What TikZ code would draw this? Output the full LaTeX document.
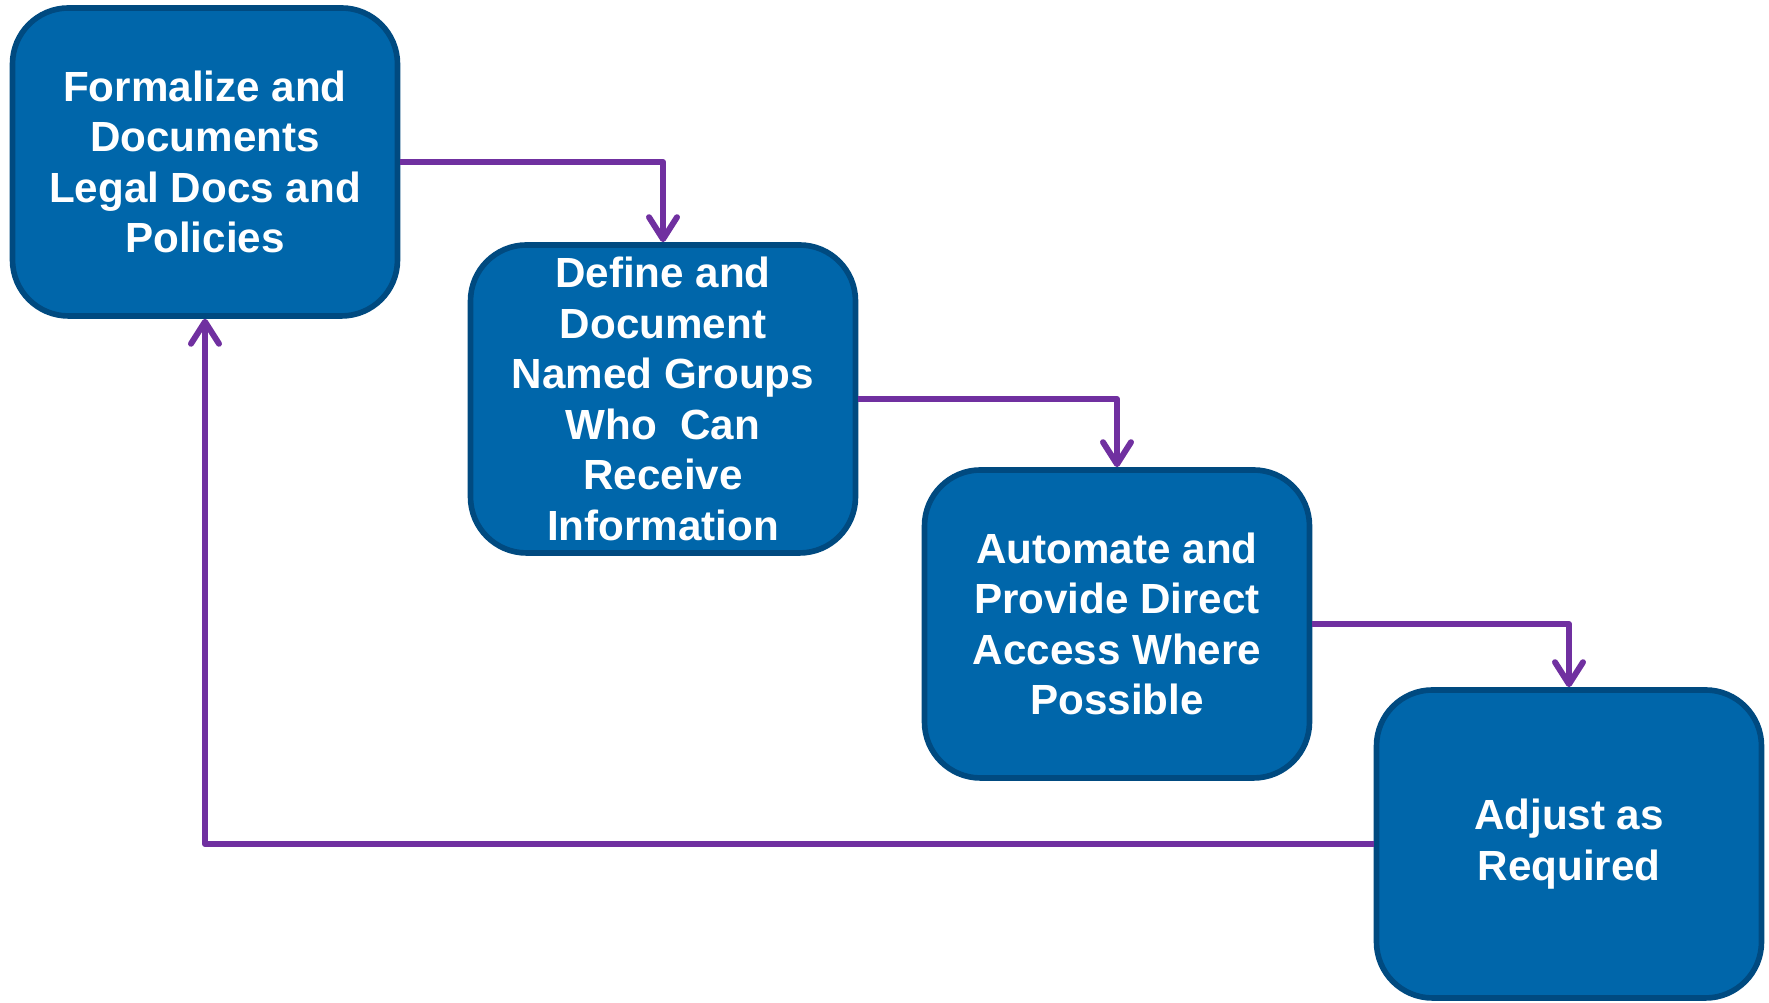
\documentclass[tikz,border=0pt]{standalone}
\usepackage{fontspec}
\setmainfont{Liberation Sans}
\usetikzlibrary{arrows.meta}
\definecolor{boxblue}{RGB}{0,102,170}
\definecolor{boxedge}{RGB}{0,74,128}
\definecolor{flowpurple}{RGB}{112,48,160}
\begin{document}
\begin{tikzpicture}[
		stage/.style = { draw = boxedge, line width = 1.6pt, fill = boxblue, rounded corners = 0.56cm,
			minimum width = 3.85cm, minimum height = 3.08cm, inner sep = 0pt, align = center,
			text = white, font = \bfseries\fontsize{12}{14.4}\selectfont },
		flow/.style = { draw = flowpurple, line width = 1.7pt, line join = round,
			-{Straight Barb[length = 2.2mm, width = 2.8mm, line width = 1.7pt, round]} }
	]
		\useasboundingbox ( 0.00, 0.00 ) rectangle ( 17.69, 10.03 );

		% этапы
		\node [stage] (formalize) at (  2.05, 8.41 ) {Formalize and\\Documents\\Legal Docs and\\Policies};
		\node [stage] (define)    at (  6.63, 6.04 ) {Define and\\Document\\Named Groups\\Who\ \ Can\\Receive\\Information};
		\node [stage] (automate)  at ( 11.17, 3.79 ) {Automate and\\Provide Direct\\Access Where\\Possible};
		\node [stage] (adjust)    at ( 15.69, 1.59 ) {Adjust as\\Required};

		% переходы
		\draw [flow] (formalize.east) -| (define.north);
		\draw [flow] (define.east) -| (automate.north);
		\draw [flow] (automate.east) -| (adjust.north);

		% обратная связь
		\draw [flow] (adjust.west) -| (formalize.south);
	\end{tikzpicture}
\end{document}
